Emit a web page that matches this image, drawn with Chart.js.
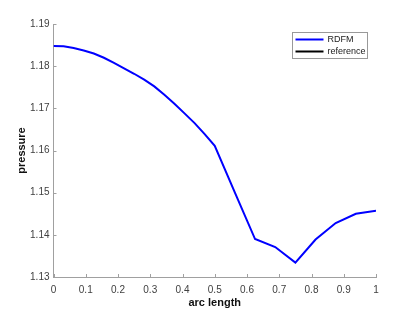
<!DOCTYPE html>
<html><head><meta charset="utf-8">
<script src="https://cdn.jsdelivr.net/npm/chart.js@4.4.0/dist/chart.umd.min.js"></script>
<style>html,body{margin:0;padding:0;background:#fff}#c{display:block}</style>
</head><body>
<canvas id="c" width="415" height="312"></canvas>
<script>
const arcLength = [0, 0.03125, 0.0625, 0.09375, 0.125, 0.15625, 0.1875, 0.21875, 0.25, 0.28125, 0.3125, 0.34375, 0.375, 0.40625, 0.4375, 0.46875, 0.5, 0.5625, 0.625, 0.6875, 0.75, 0.8125, 0.875, 0.9375, 1];
const rdfm = [1.1848, 1.1847, 1.1843, 1.1837, 1.1830, 1.1820, 1.1808, 1.1795, 1.1782, 1.1768, 1.1752, 1.1732, 1.1711, 1.1688, 1.1665, 1.1639, 1.1611, 1.1500, 1.1390, 1.1371, 1.1334, 1.1389, 1.1428, 1.1450, 1.1457];
const referenceVals = [];
const xTicks = [0, 0.1, 0.2, 0.3, 0.4, 0.5, 0.6, 0.7, 0.8, 0.9, 1];
const yTicks = [1.13, 1.14, 1.15, 1.16, 1.17, 1.18, 1.19];

const AXIS = '#a0a0a0';
const TXT = '#404040';
const FONT = '"Liberation Sans", Arial, sans-serif';

const inwardTicks = {
  id: 'inwardTicks',
  afterDraw(chart) {
    const ctx = chart.ctx, xs = chart.scales.x, ys = chart.scales.y, a = chart.chartArea;
    ctx.save();
    ctx.strokeStyle = AXIS; ctx.lineWidth = 1;
    ctx.beginPath();
    xTicks.forEach(v => { const px = Math.round(xs.getPixelForValue(v)) + 0.5; ctx.moveTo(px, a.bottom); ctx.lineTo(px, a.bottom - 3); });
    yTicks.forEach(v => { const py = Math.round(ys.getPixelForValue(v)) + 0.5; ctx.moveTo(a.left, py); ctx.lineTo(a.left + 3, py); });
    ctx.stroke();
    // legend
    const bx = 292.5, by = 32.5, bw = 75, bh = 26;
    ctx.fillStyle = '#fff'; ctx.fillRect(bx, by, bw, bh);
    ctx.strokeStyle = '#999'; ctx.lineWidth = 1; ctx.strokeRect(bx, by, bw, bh);
    ctx.font = '9px ' + FONT;
    ctx.textBaseline = 'middle'; ctx.textAlign = 'left';
    chart.data.datasets.forEach((ds, i) => {
      const ly = by + 7 + i * 12;
      ctx.strokeStyle = ds.borderColor; ctx.lineWidth = 2;
      ctx.beginPath(); ctx.moveTo(bx + 3, ly); ctx.lineTo(bx + 31, ly); ctx.stroke();
      ctx.fillStyle = '#222'; ctx.fillText(ds.label, bx + 35, ly);
    });
    ctx.restore();
  }
};

new Chart(document.getElementById('c'), {
  type: 'line',
  data: {
    datasets: [
      { label: 'RDFM', data: arcLength.map((x, i) => ({x, y: rdfm[i]})), borderColor: '#0000ff', borderWidth: 2, pointRadius: 0, tension: 0, fill: false },
      { label: 'reference', data: referenceVals, borderColor: '#000000', borderWidth: 2, pointRadius: 0, fill: false }
    ]
  },
  options: {
    responsive: false, animation: false, devicePixelRatio: 1,
    layout: { padding: { top: 24, right: 39, left: 15, bottom: 0 } },
    plugins: { legend: { display: false }, tooltip: { enabled: false } },
    scales: {
      x: {
        type: 'linear', min: 0, max: 1,
        afterFit(s) { s.height = 35; },
        afterBuildTicks(s) { s.ticks = xTicks.map(v => ({value: v})); },
        grid: { drawOnChartArea: false, drawTicks: false },
        border: { color: AXIS, width: 1 },
        ticks: { padding: 7, color: TXT, font: { family: FONT, size: 10 }, callback: v => String(v), maxRotation: 0 },
        title: { display: true, text: 'arc length', color: '#111', padding: { top: 0, bottom: 2 }, font: { family: FONT, size: 11, weight: 'bold' } }
      },
      y: {
        type: 'linear', min: 1.13, max: 1.19,
        afterFit(s) { s.width = 38.5; },
        afterBuildTicks(s) { s.ticks = yTicks.map(v => ({value: v})); },
        grid: { drawOnChartArea: false, drawTicks: false },
        border: { color: AXIS, width: 1 },
        ticks: { padding: 4, color: TXT, font: { family: FONT, size: 10 }, callback: v => v.toFixed(2) },
        title: { display: true, text: 'pressure', color: '#111', padding: { top: 0, bottom: 0 }, font: { family: FONT, size: 11, weight: 'bold' } }
      }
    }
  },
  plugins: [inwardTicks]
});
</script>
</body></html>
